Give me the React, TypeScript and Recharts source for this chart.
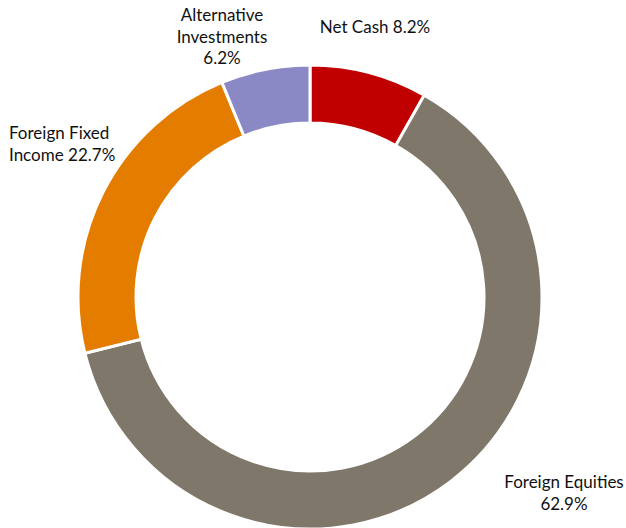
import { PieChart, Pie, Cell } from "recharts";

// ---------------------------------------------------------------------------
// Data
// ---------------------------------------------------------------------------

const CATEGORIES = [
  "Net Cash",
  "Foreign Equities",
  "Foreign Fixed Income",
  "Alternative Investments",
];
const VALUES = [8.2, 62.9, 22.7, 6.2];
const COLORS = ["#C00000", "#7F7769", "#E47C00", "#8B88C6"];

// label lines per slice (text only)
const LABEL_LINES = [
  ["Net Cash 8.2%"],
  ["Foreign Equities", "62.9%"],
  ["Foreign Fixed", "Income 22.7%"],
  ["Alternative", "Investments", "6.2%"],
];

// label layout: anchor point + alignment
const LABEL_LAYOUT: { x: number; y: number; anchor: "start" | "middle" }[] = [
  { x: 375, y: 33, anchor: "middle" },
  { x: 564, y: 488, anchor: "middle" },
  { x: 9, y: 139, anchor: "start" },
  { x: 222, y: 21, anchor: "middle" },
];

const data = CATEGORIES.map((name, i) => ({ name, value: VALUES[i] }));

const FONT = "Lato, 'Open Sans', sans-serif";
const LINE_H = 21.5;

function renderLabel(props: any) {
  const i = props.index as number;
  const pos = LABEL_LAYOUT[i];
  return (
    <text
      key={`lbl-${i}`}
      x={pos.x}
      y={pos.y}
      textAnchor={pos.anchor}
      fill="#111111"
      fontFamily={FONT}
      fontSize={17}
    >
      {LABEL_LINES[i].map((line, j) => (
        <tspan key={j} x={pos.x} dy={j === 0 ? 0 : LINE_H}>
          {line}
        </tspan>
      ))}
    </text>
  );
}

export default function App() {
  return (
    <div style={{ position: "absolute", left: 0, top: 0, background: "#fff" }}>
      <PieChart width={626} height={528} margin={{ top: 0, right: 0, bottom: 0, left: 0 }}>
        <Pie
          data={data}
          dataKey="value"
          nameKey="name"
          cx={310}
          cy={297}
          outerRadius={232}
          innerRadius={174}
          startAngle={90}
          endAngle={-270}
          stroke="#ffffff"
          strokeWidth={3}
          label={renderLabel}
          labelLine={false}
          isAnimationActive={false}
        >
          {data.map((d, i) => (
            <Cell key={d.name} fill={COLORS[i]} />
          ))}
        </Pie>
      </PieChart>
    </div>
  );
}
